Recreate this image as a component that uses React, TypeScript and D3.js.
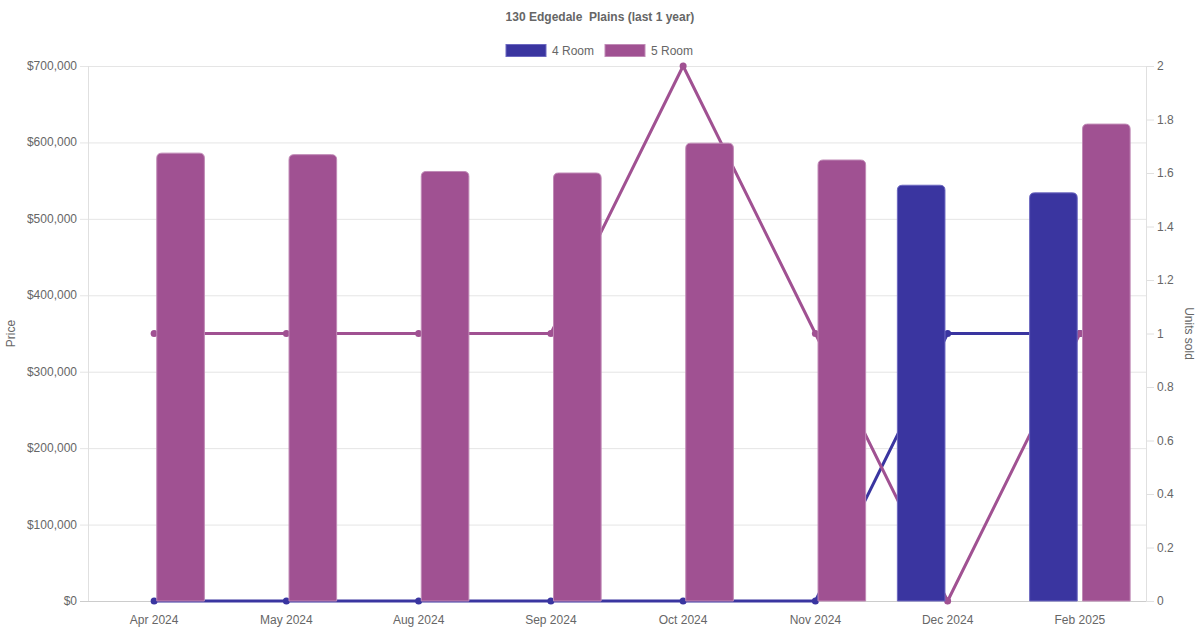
import React from "react";
import * as d3 from "d3";

const title = "130 Edgedale  Plains (last 1 year)";
const months = ["Apr 2024", "May 2024", "Aug 2024", "Sep 2024", "Oct 2024", "Nov 2024", "Dec 2024", "Feb 2025"];
const price4Room: (number | null)[] = [null, null, null, null, null, null, 544000, 534000];
const price5Room: (number | null)[] = [586000, 584000, 562000, 560000, 599000, 577000, null, 624000];
const units4Room = [0, 0, 0, 0, 0, 0, 1, 1];
const units5Room = [1, 1, 1, 1, 2, 1, 0, 1];
const priceTicks = [0, 100000, 200000, 300000, 400000, 500000, 600000, 700000];
const unitTicks = [0, 0.2, 0.4, 0.6, 0.8, 1, 1.2, 1.4, 1.6, 1.8, 2];

const series = [
  { name: "4 Room", color: "#3a35a0", border: "#6c68c0", prices: price4Room, units: units4Room },
  { name: "5 Room", color: "#a05192", border: "#c08ab6", prices: price5Room, units: units5Room },
];

const W = 1200, H = 630;
const M = { left: 88, right: 1146, top: 66, bottom: 601 };
const FONT = "'Liberation Sans', Arial, Helvetica, sans-serif";
const TXT = "#666";

function barPath(x: number, y: number, w: number, h: number, r: number) {
  const rr = Math.min(r, w / 2, h);
  return `M${x},${y + h}V${y + rr}Q${x},${y} ${x + rr},${y}H${x + w - rr}Q${x + w},${y} ${x + w},${y + rr}V${y + h}Z`;
}

export default function App() {
  const x = d3.scaleBand<string>().domain(months).range([M.left, M.right]).padding(0);
  const yP = d3.scaleLinear().domain([0, 700000]).range([M.bottom, M.top]);
  const yU = d3.scaleLinear().domain([0, 2]).range([M.bottom, M.top]);
  const inner = d3.scaleBand<string>().domain(series.map(s => s.name)).range([0, x.bandwidth() * 0.8]);
  const barW = inner.bandwidth() * 0.9;
  const fmt = d3.format("$,.0f");

  return (
    <svg width={W} height={H} style={{ position: "absolute", left: 0, top: 0, background: "#fff" }} fontFamily={FONT}>
      <text x={600} y={21} textAnchor="middle" fontSize={12} fontWeight="bold" fill={TXT} style={{ whiteSpace: "pre" }}>{title}</text>
      {/* legend */}
      {series.map((s, i) => {
        const lx = i === 0 ? 506 : 605;
        return (
          <g key={s.name}>
            <rect x={lx} y={44.5} width={40} height={12} fill={s.color} stroke={s.border} strokeWidth={1} />
            <text x={lx + 46} y={54.5} fontSize={12} fill={TXT}>{s.name}</text>
          </g>
        );
      })}
      {/* grid */}
      {priceTicks.map(t => (
        <g key={t}>
          <line x1={M.left - 8} x2={M.right} y1={yP(t) + 0.5} y2={yP(t) + 0.5} stroke={t === 0 ? "#ccc" : "#e5e5e5"} />
          <text x={M.left - 11} y={yP(t) + 4} textAnchor="end" fontSize={12} fill={TXT}>{fmt(t)}</text>
        </g>
      ))}
      <line x1={M.left + 0.5} x2={M.left + 0.5} y1={M.top} y2={M.bottom} stroke="#e0e0e0" />
      <line x1={M.right + 0.5} x2={M.right + 0.5} y1={M.top} y2={M.bottom} stroke="#e0e0e0" />
      {unitTicks.map(t => (
        <g key={t}>
          <line x1={M.right} x2={M.right + 8} y1={yU(t) + 0.5} y2={yU(t) + 0.5} stroke="#e0e0e0" />
          <text x={M.right + 11} y={yU(t) + 4} textAnchor="start" fontSize={12} fill={TXT}>{d3.format("~g")(t)}</text>
        </g>
      ))}
      {months.map(m => (
        <text key={m} x={x(m)! + x.bandwidth() / 2} y={624} textAnchor="middle" fontSize={12} fill={TXT}>{m}</text>
      ))}
      <text transform={`translate(15,${(M.top + M.bottom) / 2}) rotate(-90)`} textAnchor="middle" fontSize={12} fill={TXT}>Price</text>
      <text transform={`translate(1185,${(M.top + M.bottom) / 2}) rotate(90)`} textAnchor="middle" fontSize={12} fill={TXT}>Units sold</text>
      {/* lines (behind bars) */}
      {series.map(s => {
        const line = d3.line<number>().x((_, i) => x(months[i])! + x.bandwidth() / 2).y(d => yU(d));
        return (
          <g key={s.name}>
            <path d={line(s.units)!} fill="none" stroke={s.color} strokeWidth={3} />
            {s.units.map((u, i) => (
              <circle key={i} cx={x(months[i])! + x.bandwidth() / 2} cy={yU(u)} r={3.5} fill={s.color} />
            ))}
          </g>
        );
      })}
      {/* bars */}
      {series.map(s => (
        <g key={s.name}>
          {s.prices.map((p, i) => {
            if (p == null) return null;
            const cx = x(months[i])! + x.bandwidth() * 0.1 + inner(s.name)! + inner.bandwidth() / 2;
            const y0 = yP(p);
            return (
              <path key={i} d={barPath(cx - barW / 2, y0, barW, yP(0) - y0, 5)} fill={s.color} stroke={s.border} strokeWidth={1} />
            );
          })}
        </g>
      ))}
    </svg>
  );
}
